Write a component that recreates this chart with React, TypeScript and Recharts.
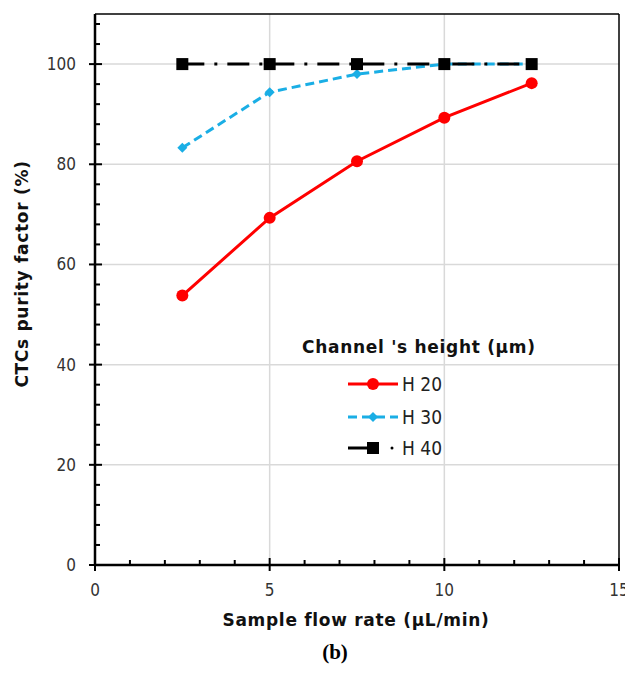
import React from "react";
import { LineChart, Line, XAxis, YAxis, CartesianGrid, ReferenceLine } from "recharts";

const flowRates = [2.5, 5, 7.5, 10, 12.5];
const h20 = [53.8, 69.3, 80.6, 89.3, 96.2];
const h30 = [83.3, 94.4, 98.0, 100, 100];
const h40 = [100, 100, 100, 100, 100];
const xTicks = [0, 1, 2, 3, 4, 5, 6, 7, 8, 9, 10, 11, 12, 13, 14, 15];
const yTicks = [0, 4, 8, 12, 16, 20, 24, 28, 32, 36, 40, 44, 48, 52, 56, 60, 64, 68, 72, 76, 80, 84, 88, 92, 96, 100, 104, 108];
const xLabelEvery = 5;
const yLabelEvery = 20;

const data = flowRates.map((x, i) => ({ x, h20: h20[i], h30: h30[i], h40: h40[i] }));

const TICK_FONT = "'DejaVu Sans Condensed', 'DejaVu Sans', sans-serif";
const BOLD_FONT = "'DejaVu Sans', Verdana, sans-serif";

const XTick = (props: any) => {
  const { x, y, payload } = props;
  const v = payload.value;
  const major = v % xLabelEvery === 0;
  return (
    <g>
      <line x1={x} x2={x} y1={major ? y + 6 : y} y2={y - (major ? 7 : 5)} stroke="#000" strokeWidth={2} />
      {major && (
        <text x={x} y={y + 31} textAnchor="middle" fontSize={17} fill="#333" fontFamily={TICK_FONT} fontStretch="condensed">
          {v}
        </text>
      )}
    </g>
  );
};

const YTick = (props: any) => {
  const { x, y, payload } = props;
  const v = payload.value;
  const major = v % yLabelEvery === 0;
  return (
    <g>
      <line x1={major ? x - 6 : x} x2={x + (major ? 7 : 5)} y1={y} y2={y} stroke="#000" strokeWidth={2} />
      {major && (
        <text x={x - 19} y={y + 6} textAnchor="end" fontSize={17} fill="#333" fontFamily={TICK_FONT} fontStretch="condensed">
          {v}
        </text>
      )}
    </g>
  );
};

const Diamond = (props: any) => {
  const { cx, cy } = props;
  if (cx == null || cy == null) return null;
  const s = 5;
  return <path d={`M${cx},${cy - s}L${cx + s},${cy}L${cx},${cy + s}L${cx - s},${cy}Z`} fill="#1aaee5" stroke="none" />;
};

const Square = (props: any) => {
  const { cx, cy } = props;
  if (cx == null || cy == null) return null;
  const s = 6;
  return <rect x={cx - s} y={cy - s} width={2 * s} height={2 * s} fill="#000" />;
};

const LegendBox = () => (
  <svg width={300} height={140} style={{ position: "absolute", left: 280, top: 314, overflow: "visible" }}>
    <text x={14} y={31} fontSize={17} letterSpacing={0.7} fontWeight="bold" fill="#111" fontFamily={BOLD_FONT}>
      Channel 's height (μm)
    </text>
    <line x1={60} x2={110} y1={62} y2={62} stroke="#ff0000" strokeWidth={3} />
    <circle cx={85} cy={62} r={6} fill="#ff0000" />
    <text x={114} y={69} fontSize={19} fill="#222" fontFamily={TICK_FONT}>H 20</text>
    <line x1={60} x2={110} y1={95} y2={95} stroke="#1aaee5" strokeWidth={3} strokeDasharray="9 5" />
    <path d="M85,90L90,95L85,100L80,95Z" fill="#1aaee5" />
    <text x={114} y={102} fontSize={19} fill="#222" fontFamily={TICK_FONT}>H 30</text>
    <line x1={60} x2={85} y1={126} y2={126} stroke="#000" strokeWidth={3} />
    <rect x={79} y={120} width={12} height={12} fill="#000" />
    <circle cx={104} cy={126} r={1.5} fill="#000" />
    <text x={114} y={133} fontSize={19} fill="#222" fontFamily={TICK_FONT}>H 40</text>
  </svg>
);

export default function App() {
  return (
    <div style={{ position: "relative", width: 625, height: 656 }}>
      <style>{".recharts-surface{overflow:visible !important}.recharts-wrapper{overflow:visible !important}"}</style>
      <LineChart
        width={625}
        height={656}
        data={data}
        margin={{ top: 6, right: 14, left: 7, bottom: 39 }}
      >
        <CartesianGrid stroke="#d9d9d9" strokeWidth={1.5} horizontalValues={[20, 40, 60, 80, 100]} verticalValues={[5, 10]} />
        <XAxis
          type="number"
          dataKey="x"
          domain={[0, 15]}
          ticks={xTicks}
          interval={0}
          height={60}
          tickSize={0}
          tickMargin={0}
          tickLine={false}
          axisLine={{ stroke: "#000", strokeWidth: 2.5 }}
          tick={<XTick />}
        />
        <YAxis
          type="number"
          domain={[0, 110]}
          ticks={yTicks}
          interval={0}
          width={80}
          tickSize={0}
          tickMargin={0}
          tickLine={false}
          axisLine={{ stroke: "#000", strokeWidth: 2.5 }}
          tick={<YTick />}
        />
        <ReferenceLine y={110} stroke="#000" strokeWidth={1.5} />
        <ReferenceLine x={15} stroke="#000" strokeWidth={1.5} />
        <Line dataKey="h20" stroke="#ff0000" strokeWidth={3} isAnimationActive={false} dot={{ r: 6, fill: "#ff0000", stroke: "#ff0000", strokeWidth: 0 }} />
        <Line dataKey="h30" stroke="#1aaee5" strokeWidth={3} strokeDasharray="9 5" isAnimationActive={false} dot={<Diamond />} />
        <Line dataKey="h40" stroke="#000" strokeWidth={3} strokeDasharray="22 10 3 10" isAnimationActive={false} dot={<Square />} />
      </LineChart>
      <LegendBox />
      <div
        style={{
          position: "absolute",
          left: 14,
          top: 266,
          transform: "translate(-50%, -50%) rotate(-90deg)",
          whiteSpace: "nowrap",
          fontFamily: BOLD_FONT,
          fontWeight: "bold",
          fontSize: 17,
          letterSpacing: 0.7,
          color: "#111",
        }}
      >
        CTCs purity factor (%)
      </div>
      <div
        style={{
          position: "absolute",
          left: 348,
          top: 612,
          transform: "translate(-50%, -50%)",
          whiteSpace: "nowrap",
          fontFamily: BOLD_FONT,
          fontWeight: "bold",
          fontSize: 17,
          letterSpacing: 0.7,
          color: "#111",
        }}
      >
        Sample flow rate (μL/min)
      </div>
      <div
        style={{
          position: "absolute",
          left: 327,
          top: 644,
          transform: "translate(-50%, -50%)",
          whiteSpace: "nowrap",
          fontFamily: "'Liberation Serif', 'Times New Roman', serif",
          fontWeight: "bold",
          fontSize: 21,
          color: "#000",
        }}
      >
        (b)
      </div>
    </div>
  );
}
